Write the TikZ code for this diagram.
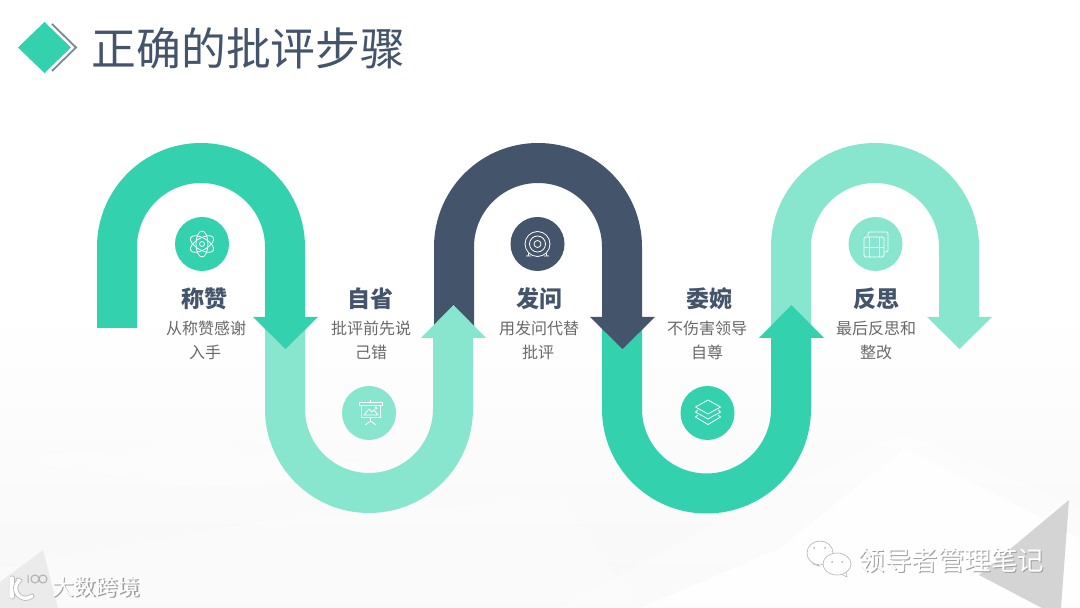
\documentclass[tikz,border=0pt]{standalone}
\usepackage{fontspec}
\setmainfont{Noto Sans CJK SC}
\definecolor{hijaups}{RGB}{51,209,173}
\definecolor{mudaps}{RGB}{136,229,206}
\definecolor{birutuaps}{RGB}{68,84,106}
\definecolor{abups}{RGB}{105,105,105}
\tikzset{
  pita/.style={line width=40pt},
  ikon/.style={white, line width=0.8pt, line join=round},
  judulstep/.style={font=\fontsize{23}{23}\selectfont\bfseries, text=birutuaps, inner sep=0pt},
  isistep/.style={font=\fontsize{16}{16}\selectfont, text=abups, inner sep=0pt},
  tandabayang/.style={text=black!38, inner sep=0pt},
  tandaputih/.style={text=white, inner sep=0pt},
  garisbayang/.style={black!28, line cap=round},
  garisputih/.style={white, line cap=round},
  gelembung/.style={fill=white, draw=black!30, line width=0.6pt}
}

\begin{document}
\begin{tikzpicture}[x=1pt, y=1pt]
    \useasboundingbox (0,0) rectangle (1080,608);
    % latar
    \fill[white] (0,0) rectangle (1080,608);
    \shade[top color=white, bottom color=black!3] (0,0) rectangle (1080,300);
    \fill[white, opacity=0.35] (560,0) -- (760,110) -- (905,175) -- (1080,100) -- (1080,0) -- cycle;
    \fill[white, opacity=0.8] (640,0) -- (780,60) -- (905,160) -- (1080,70) -- (1080,0) -- cycle;
    \fill[white, opacity=0.3] (0,40) -- (250,85) -- (560,110) -- (640,0) -- (0,0) -- cycle;
    \fill[white, opacity=0.3] (0,150) -- (200,120) -- (400,140) -- (200,165) -- cycle;
    \fill[black!17] (1069,108) -- (979,33) -- (1042,0) -- (1061,0) -- cycle;
    \fill[black!8] (43,58) -- (0,26) -- (0,0) -- (58,0) -- cycle;

    % judul
    \fill[hijaups] (44.5,586) -- (71,560.5) -- (44.5,535) -- (18,560.5) -- cycle;
    \draw[birutuaps!70, line width=1.8pt] (52,584) -- (76,560.5) -- (52,537);
    \node[font=\fontsize{44.8}{44.8}\selectfont, text=birutuaps, inner sep=0pt] (judul) at (248.5,560) {正确的批评步骤};

    % pita
    \draw[pita, hijaups] (117,280) -- (117,361) arc (180:0:84pt) -- (285,291);
    \draw[pita, mudaps] (285,285) -- (285,199) arc (180:360:84pt) -- (453,270);
    \draw[pita, birutuaps] (454,275) -- (454,361) arc (180:0:84pt) -- (622,291);
    \draw[pita, hijaups] (622,285) -- (622,199) arc (180:360:84.5pt) -- (791,270);
    \draw[pita, mudaps] (791,275) -- (791,361) arc (180:0:84pt) -- (959,291);

    % panah
    \fill[hijaups] (253,291) -- (318,291) -- (285.5,259) -- cycle;
    \fill[mudaps] (421,270) -- (486,270) -- (453.5,303) -- cycle;
    \fill[birutuaps] (590,291) -- (655,291) -- (622.5,259) -- cycle;
    \fill[hijaups] (759,270) -- (824,270) -- (791.5,303) -- cycle;
    \fill[mudaps] (927,291) -- (992,291) -- (959.5,259) -- cycle;

    % lingkaran
    \fill[hijaups] (202,364) circle (27pt);
    \fill[mudaps] (369,195) circle (27pt);
    \fill[birutuaps] (537.5,364) circle (27pt);
    \fill[hijaups] (707.5,195) circle (27pt);
    \fill[mudaps] (875.5,364) circle (27pt);

    % ikon atom
    \draw[ikon] (202,364) circle (2.5pt);
    \draw[ikon, rotate around={30:(202,364)}] (202,364) ellipse (13pt and 6pt);
    \draw[ikon, rotate around={90:(202,364)}] (202,364) ellipse (13pt and 6pt);
    \draw[ikon, rotate around={150:(202,364)}] (202,364) ellipse (13pt and 6pt);
    % ikon papan
    \draw[ikon] (359,206) rectangle (382,203);
    \draw[ikon] (361,203) rectangle (380,191);
    \draw[ikon] (370.5,208) -- (370.5,206);
    \draw[ikon] (364,193) -- (369,199) -- (372,196) -- (374,198) -- (378,193) -- cycle;
    \draw[ikon] (376,200) circle (1pt);
    \draw[ikon] (370.5,191) -- (370.5,187) (365,183) -- (370.5,187) -- (376,183);
    % ikon target
    \draw[ikon] (537.5,364) circle (12.5pt);
    \draw[ikon] (537.5,364) circle (8pt);
    \draw[ikon] (537.5,364) circle (3.5pt);
    \draw[ikon] (529,355) -- (528,352) (546,355) -- (547,352) (526,352) -- (531,352) (544,352) -- (549,352);
    % ikon lapisan
    \draw[ikon] (708,208) -- (720.5,201) -- (708,194) -- (695.5,201) -- cycle;
    \draw[ikon] (698,198) -- (695.5,196) -- (708,189) -- (720.5,196) -- (718,198);
    \draw[ikon] (698,193) -- (695.5,191) -- (708,183.5) -- (720.5,191) -- (718,193);
    % ikon film
    \draw[ikon, rounded corners=1.5pt] (864,351) rectangle (884,371);
    \draw[ikon, rounded corners=1.5pt] (868,371) -- (868,376) -- (888,376) -- (888,356) -- (884,356);
    \draw[ikon] (869,351) -- (869,371) (879,351) -- (879,371) (864,361) -- (884,361);

    % teks
    \node[judulstep] (judulsatu) at (204,309.5) {称赞};
    \node[isistep] (isisatu) at (206,279.5) {从称赞感谢};
    \node[isistep] (isisatub) at (205,255.5) {入手};
    \node[judulstep] (juduldua) at (370,309.5) {自省};
    \node[isistep] (isidua) at (371,279.5) {批评前先说};
    \node[isistep] (isiduab) at (371,255.5) {己错};
    \node[judulstep] (judultiga) at (539,309.5) {发问};
    \node[isistep] (isitiga) at (539,279.5) {用发问代替};
    \node[isistep] (isitigab) at (538,255.5) {批评};
    \node[judulstep] (judulempat) at (709,309.5) {委婉};
    \node[isistep] (isiempat) at (707,279.5) {不伤害领导};
    \node[isistep] (isiempatb) at (707,255.5) {自尊};
    \node[judulstep] (judullima) at (876,309.5) {反思};
    \node[isistep] (isilima) at (876,279.5) {最后反思和};
    \node[isistep] (isilimab) at (876,255.5) {整改};

    % tanda air
    \node[tandabayang, font=\fontsize{26.5}{26.5}\selectfont] (wmbayang) at (952.5,46.5) {领导者管理笔记};
    \node[tandaputih, font=\fontsize{26.5}{26.5}\selectfont] (wmteks) at (951.5,47.5) {领导者管理笔记};
    \node[tandabayang, font=\fontsize{22}{22}\selectfont] (dsbayang) at (97,19.5) {大数跨境};
    \node[tandaputih, font=\fontsize{22}{22}\selectfont] (dsteks) at (96,20.5) {大数跨境};
    \draw[gelembung] (813,44) -- (816,45) -- (819,42) -- cycle;
    \draw[gelembung] (820,55) ellipse (13pt and 12pt);
    \draw[gelembung] (846,36) -- (847,31) -- (841,34) -- cycle;
    \draw[gelembung] (837,44) ellipse (14pt and 11pt);
    \fill[black!30] (814,60) circle (1pt) (825,60) circle (1pt) (832,46) circle (1pt) (842,46) circle (1pt);
    % logo
    \draw[garisbayang, line width=5pt] (12,30) -- (12,11);
    \draw[garisputih, line width=3.4pt] (12,30) -- (12,11);
    \draw[garisbayang, line width=5pt] (32,12) arc (-50:-230:10pt) -- (18,28);
    \draw[garisputih, line width=3.4pt] (32,12) arc (-50:-230:10pt) -- (18,28);
    \draw[black!32, line width=1pt] (28,25) -- (28,33) (35,29) circle (4pt) (43,29) circle (4pt);
\end{tikzpicture}
\end{document}
